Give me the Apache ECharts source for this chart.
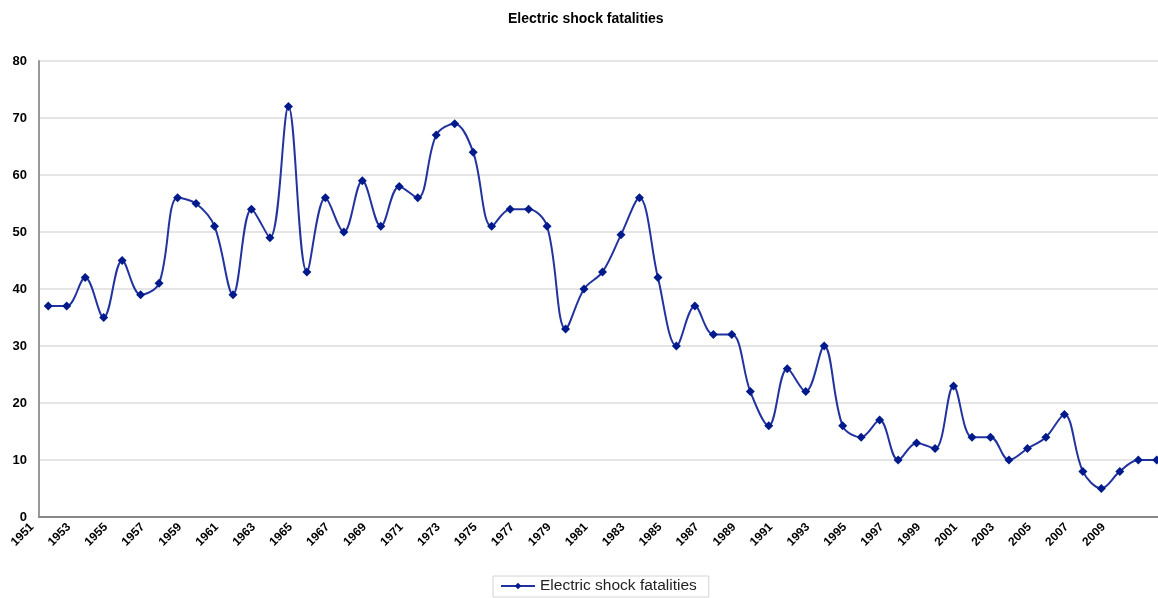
<!DOCTYPE html>
<html lang="en" style="height: 100%">

<head>
    <meta charset="utf-8" />
    <script src="https://cdn.jsdelivr.net/npm/echarts@6/dist/echarts.min.js"></script>
</head>

<body style="height: 100%; margin: 0; background: #fff; overflow: hidden">
    <!-- a bit wider than the window: the last category runs past the right edge -->
    <div id="container" style="width: 1166px;height: 598px;"></div>
    <script type="text/javascript">
        var dom = document.getElementById('container');
        var myChart = echarts.init(dom, null, { renderer: 'canvas' });

        // years 1951..2011
        const years = ['1951', '1952', '1953', '1954', '1955', '1956', '1957', '1958', '1959', '1960',
            '1961', '1962', '1963', '1964', '1965', '1966', '1967', '1968', '1969', '1970',
            '1971', '1972', '1973', '1974', '1975', '1976', '1977', '1978', '1979', '1980',
            '1981', '1982', '1983', '1984', '1985', '1986', '1987', '1988', '1989', '1990',
            '1991', '1992', '1993', '1994', '1995', '1996', '1997', '1998', '1999', '2000',
            '2001', '2002', '2003', '2004', '2005', '2006', '2007', '2008', '2009', '2010', '2011'];
        const fatalities = [37, 37, 42, 35, 45, 39, 41, 56, 55, 51,
            39, 54, 49, 72, 43, 56, 50, 59, 51, 58,
            56, 67, 69, 64, 51, 54, 54, 51, 33, 40,
            43, 49.5, 56, 42, 30, 37, 32, 32, 22, 16,
            26, 22, 30, 16, 14, 17, 10, 13, 12, 23,
            14, 14, 10, 12, 14, 18, 8, 5, 8, 10, 10];
        const seriesName = 'Electric shock fatalities';

        var option = {
            backgroundColor: '#ffffff',
            animation: false,
            title: {
                text: 'Electric shock fatalities',
                left: 503,
                top: 7,
                textStyle: {
                    fontFamily: 'Liberation Sans',
                    fontSize: 14,
                    fontWeight: 'bold',
                    color: '#000'
                }
            },
            legend: {
                data: [seriesName],
                left: 493,
                top: 576,
                padding: [2, 12, 3, 7],
                borderColor: '#d4d4d4',
                borderWidth: 1,
                itemWidth: 34,
                itemHeight: 8,
                itemGap: 5,
                textStyle: {
                    fontFamily: 'Liberation Sans',
                    fontSize: 15.5,
                    color: '#222'
                }
            },
            grid: {
                left: 39,
                top: 61,
                right: 0,
                bottom: 81,
                containLabel: false
            },
            xAxis: {
                type: 'category',
                boundaryGap: true,
                data: years,
                axisLine: { lineStyle: { color: '#888888', width: 2 } },
                axisTick: { show: false },
                axisLabel: {
                    interval: function (i) { return i % 2 === 0 && i < 60; },
                    rotate: 45,
                    margin: -8,
                    padding: [0, 23, 0, 0],
                    fontFamily: 'Liberation Sans',
                    fontSize: 12,
                    fontWeight: 'bold',
                    color: '#000'
                },
                splitLine: { show: false }
            },
            yAxis: {
                type: 'value',
                min: 0,
                max: 80,
                interval: 10,
                axisLine: { show: true, lineStyle: { color: '#999999', width: 2 } },
                axisTick: { show: false },
                axisLabel: {
                    margin: 12,
                    fontFamily: 'Liberation Sans',
                    fontSize: 13,
                    fontWeight: 'bold',
                    color: '#000'
                },
                splitLine: { show: true, lineStyle: { color: '#dcdcdc', width: 1.5 } }
            },
            series: [{
                name: seriesName,
                type: 'line',
                data: fatalities,
                smooth: 0.35,
                symbol: 'diamond',
                symbolSize: 9,
                lineStyle: { color: '#2233a0', width: 2 },
                itemStyle: { color: '#001a8c' }
            }]
        };

        myChart.setOption(option);
        window.addEventListener('resize', myChart.resize);
    </script>
</body>

</html>
